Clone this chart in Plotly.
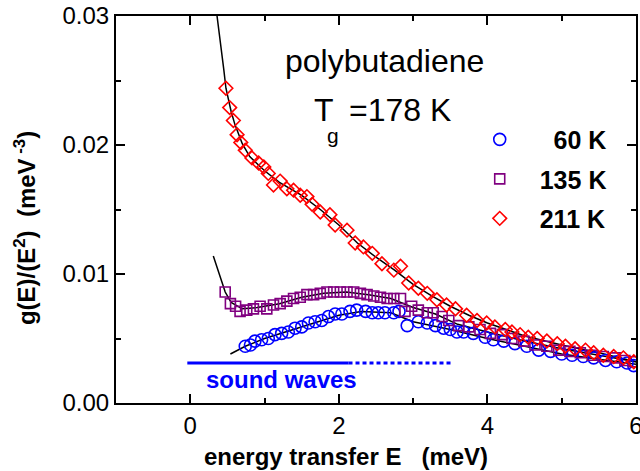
import plotly.graph_objects as go

FONT = "Liberation Sans, Arial, sans-serif"

# ---- data (energy transfer E in meV, g(E)/E^2 in meV^-3) ----
e_211 = [0.48, 0.53, 0.58, 0.63, 0.68, 0.74, 0.83, 0.92, 0.99, 1.05, 1.12, 1.21, 1.30, 1.39,
         1.48, 1.57, 1.64, 1.75, 1.88, 1.95, 2.11, 2.22, 2.33, 2.45, 2.58, 2.74, 2.83, 2.94,
         3.07, 3.19, 3.32, 3.45, 3.57, 3.72, 3.86, 3.99, 4.10, 4.24, 4.33, 4.44, 4.55, 4.67,
         4.80, 4.94, 5.05, 5.18, 5.32, 5.43, 5.56, 5.70, 5.83, 5.97]
g_211 = [0.0244, 0.0229, 0.0219, 0.0208, 0.0202, 0.0196, 0.0190, 0.0186, 0.0183, 0.0178,
         0.0169, 0.0172, 0.0166, 0.0165, 0.0161, 0.0160, 0.0154, 0.0148, 0.0146, 0.0138,
         0.0134, 0.0124, 0.0121, 0.0116, 0.0108, 0.0103, 0.0106, 0.0093, 0.0089, 0.0085,
         0.0080, 0.0076, 0.0073, 0.0068, 0.0064, 0.0062, 0.0059, 0.0057, 0.0055, 0.0053,
         0.0051, 0.0050, 0.0048, 0.0046, 0.0044, 0.0042, 0.0041, 0.0039, 0.0037, 0.0036,
         0.0035, 0.0032]

e_135 = [0.47, 0.54, 0.61, 0.67, 0.76, 0.85, 0.94, 1.03, 1.12, 1.21, 1.30, 1.39, 1.48, 1.57,
         1.66, 1.75, 1.84, 1.93, 2.02, 2.11, 2.20, 2.29, 2.38, 2.47, 2.56, 2.65, 2.74, 2.83,
         2.89, 2.98, 3.07, 3.19, 3.27, 3.39, 3.48, 3.61, 3.75, 3.90, 4.04, 4.20, 4.33, 4.49,
         4.64, 4.80, 4.96, 5.11, 5.25, 5.41, 5.56, 5.72, 5.85, 5.97]
g_135 = [0.0086, 0.0077, 0.0075, 0.0071, 0.0072, 0.0073, 0.0075, 0.0073, 0.0076, 0.0077,
         0.0079, 0.0081, 0.0082, 0.0084, 0.0084, 0.0085, 0.0086, 0.0086, 0.0086, 0.0086,
         0.0086, 0.0085, 0.0084, 0.0083, 0.0082, 0.0081, 0.0081, 0.0081, 0.0071, 0.0075,
         0.0072, 0.0070, 0.0070, 0.0067, 0.0064, 0.0060, 0.0059, 0.0057, 0.0054, 0.0053,
         0.0050, 0.0048, 0.0045, 0.0044, 0.0041, 0.0040, 0.0039, 0.0037, 0.0036, 0.0035,
         0.0033, 0.0032]

e_60 = [0.74, 0.81, 0.87, 0.96, 1.05, 1.14, 1.23, 1.32, 1.41, 1.50, 1.59, 1.68, 1.77, 1.86,
        1.95, 2.04, 2.15, 2.24, 2.36, 2.45, 2.53, 2.62, 2.74, 2.81, 2.92, 3.07, 3.19, 3.30,
        3.41, 3.50, 3.59, 3.68, 3.81, 3.97, 4.08, 4.22, 4.37, 4.53, 4.69, 4.85, 5.00, 5.14,
        5.29, 5.43, 5.59, 5.74, 5.88, 5.97]
g_60 = [0.0044, 0.0045, 0.0048, 0.0049, 0.0050, 0.0053, 0.0054, 0.0055, 0.0058, 0.0059,
        0.0062, 0.0063, 0.0064, 0.0067, 0.0069, 0.0069, 0.0071, 0.0072, 0.0071, 0.0070,
        0.0070, 0.0070, 0.0070, 0.0071, 0.0060, 0.0063, 0.0062, 0.0060, 0.0058, 0.0057,
        0.0055, 0.0055, 0.0054, 0.0051, 0.0049, 0.0048, 0.0046, 0.0044, 0.0041, 0.0040,
        0.0038, 0.0037, 0.0036, 0.0035, 0.0033, 0.0032, 0.0031, 0.0029]

# fitted curves (black lines)
fit_e_211 = [0.36, 0.40, 0.45, 0.48, 0.55, 0.60, 0.70, 0.80, 1.00, 1.20, 1.50, 1.75, 2.00,
             2.25, 2.50, 2.75, 3.00, 3.25, 3.50, 3.75, 4.00, 4.50, 5.00, 5.50, 6.00]
fit_g_211 = [0.0300, 0.0283, 0.0259, 0.0244, 0.0226, 0.0216, 0.0201, 0.0191, 0.0180, 0.0171,
             0.0161, 0.0150, 0.0138, 0.0124, 0.0113, 0.0103, 0.0092, 0.0083, 0.0075, 0.0068,
             0.0062, 0.0052, 0.0045, 0.0039, 0.0032]
fit_e_135 = [0.31, 0.40, 0.47, 0.55, 0.70, 0.90, 1.20, 1.50, 1.80, 2.10, 2.40, 2.70, 3.00,
             3.30, 3.60, 4.00, 4.50, 5.00, 5.50, 6.00]
fit_g_135 = [0.0114, 0.0098, 0.0086, 0.0078, 0.0073, 0.0074, 0.0077, 0.0082, 0.0085, 0.0086,
             0.0084, 0.0081, 0.0074, 0.0069, 0.0061, 0.0055, 0.0048, 0.0042, 0.0037, 0.0032]
fit_e_60 = [0.54, 0.74, 1.00, 1.50, 2.00, 2.30, 2.70, 3.00, 3.50, 4.00, 4.50, 5.00, 5.50, 6.00]
fit_g_60 = [0.0038, 0.0044, 0.0050, 0.0059, 0.0068, 0.0071, 0.0070, 0.0063, 0.0057, 0.0050,
            0.0044, 0.0038, 0.0034, 0.0030]

# sound-wave level
sound_solid_e = [-0.04, 2.13]
sound_dot_e = [2.13, 3.52]
sound_level = [0.0031, 0.0031]

labels = ["\u00a0\u00a060 K", "135 K", "211 K"]
colors = ["#0000FF", "#800080", "#FF0000"]

fig = go.Figure()

for fe, fg in [(fit_e_211, fit_g_211), (fit_e_135, fit_g_135), (fit_e_60, fit_g_60)]:
    fig.add_trace(go.Scatter(x=fe, y=fg, mode="lines", line=dict(color="black", width=1.5),
                             showlegend=False, hoverinfo="skip"))

fig.add_trace(go.Scatter(x=sound_solid_e, y=sound_level, mode="lines",
                         line=dict(color="#0000FF", width=3), showlegend=False))
fig.add_trace(go.Scatter(x=sound_dot_e, y=sound_level, mode="lines",
                         line=dict(color="#0000FF", width=3, dash="4px,3px"), showlegend=False))

series = [(e_60, g_60, "circle-open", 12), (e_135, g_135, "square-open", 10),
          (e_211, g_211, "diamond-open", 10.5)]
for i, (ex, gy, sym, sz) in enumerate(series):
    fig.add_trace(go.Scatter(x=ex, y=gy, mode="markers", name=labels[i], legendgroup=str(i),
                             marker=dict(symbol=sym, size=sz, color=colors[i],
                                         line=dict(color=colors[i], width=1.6))))

axis_common = dict(showline=True, linewidth=2, linecolor="black", mirror="allticks",
                   ticks="inside", ticklen=9, tickwidth=2, tickcolor="black",
                   showgrid=False, zeroline=False, ticklabeloverflow="allow", automargin=False,
                   tickfont=dict(family=FONT, size=24, color="black"))

fig.update_xaxes(range=[-1, 6], tick0=0, dtick=2,
                 minor=dict(ticks="inside", ticklen=5, tickwidth=2, tickcolor="black", dtick=1, tick0=0),
                 **axis_common)
fig.update_yaxes(range=[0, 0.03], tick0=0, dtick=0.01, tickformat=".2f",
                 minor=dict(ticks="inside", ticklen=5, tickwidth=2, tickcolor="black", dtick=0.005, tick0=0),
                 **axis_common)

ann = [
    dict(text="energy transfer E\u00a0\u00a0\u00a0(meV)", xref="paper", yref="paper",
         x=0.442, y=-0.137, xanchor="center", yanchor="middle", showarrow=False,
         font=dict(family=FONT, size=24, color="black", weight="bold")),
    dict(text="g(E)/(E<sup>2</sup>)\u00a0\u00a0(meV<sup> -3</sup>)", xref="paper", yref="paper",
         x=-0.175, y=0.452, xanchor="center", yanchor="middle", textangle=-90, showarrow=False,
         font=dict(family=FONT, size=24, color="black", weight="bold")),
    dict(text="sound waves", xref="x", yref="y", x=1.23, y=0.0018, showarrow=False,
         font=dict(family=FONT, size=24, color="#0000FF", weight="bold")),
    dict(text="polybutadiene", xref="x", yref="y", x=2.62, y=0.0265, showarrow=False,
         font=dict(family=FONT, size=32, color="black")),
    dict(text="T", xref="x", yref="y", x=1.64, y=0.0227, xanchor="left", showarrow=False,
         font=dict(family=FONT, size=32, color="black")),
    dict(text="g", xref="x", yref="y", x=1.92, y=0.0207, showarrow=False,
         font=dict(family=FONT, size=21, color="black")),
    dict(text="=178 K", xref="x", yref="y", x=2.11, y=0.0227, xanchor="left", showarrow=False,
         font=dict(family=FONT, size=32, color="black")),
]

fig.update_layout(
    width=640, height=471,
    margin=dict(l=116, r=4, t=16, b=68, autoexpand=False),
    paper_bgcolor="white", plot_bgcolor="white",
    font=dict(family=FONT, color="black"),
    annotations=ann,
    legend=dict(x=0.661, y=0.74, xanchor="left", yanchor="top", bgcolor="rgba(0,0,0,0)",
                font=dict(family=FONT, size=25, color="black", weight="bold"),
                tracegroupgap=4, itemsizing="trace", itemwidth=70),
)

fig.write_html("out.html")
